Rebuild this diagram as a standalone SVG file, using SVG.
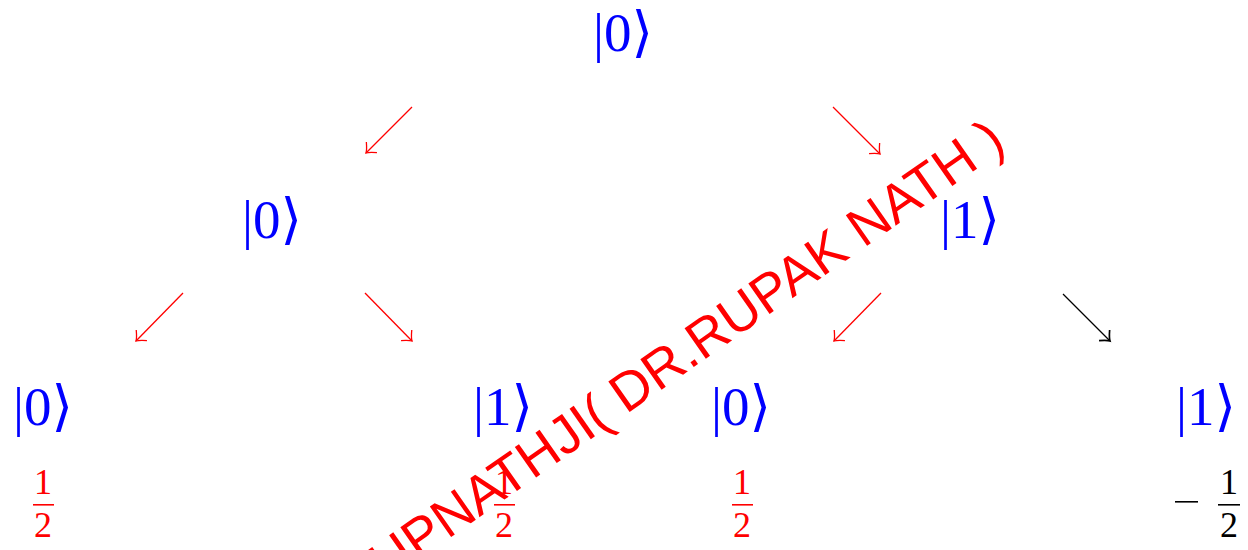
<svg xmlns="http://www.w3.org/2000/svg" width="1248" height="550" viewBox="0 0 1248 550">
<style>
.ket{font-family:"Liberation Serif","DejaVu Serif",serif;font-size:55px;fill:#0000ff;text-anchor:middle}
.frac{font-family:"Liberation Serif","DejaVu Serif",serif;font-size:36px;text-anchor:middle}
.red{fill:#ff0000}
.blk{fill:#000000}
.edge{fill:none;stroke-width:1.3}
.wm{font-family:"Liberation Sans",Arial,sans-serif;font-size:54px;fill:#ff0000}
</style>
<defs>
<marker id="ahR" markerUnits="userSpaceOnUse" markerWidth="20" markerHeight="20" refX="10" refY="10" orient="auto" viewBox="0 0 20 20">
<path d="M2,2.5 C5,6 8,9 10,10 C8,11 5,14 2,17.5" fill="none" stroke="#ff0000" stroke-width="1.3"/>
</marker>
<marker id="ahK" markerUnits="userSpaceOnUse" markerWidth="20" markerHeight="20" refX="10" refY="10" orient="auto" viewBox="0 0 20 20">
<path d="M2,2.5 C5,6 8,9 10,10 C8,11 5,14 2,17.5" fill="none" stroke="#000000" stroke-width="1.7"/>
</marker>
</defs>
<g id="connectors">
<line class="edge" stroke="#ff0000" x1="412" y1="107" x2="366" y2="153" marker-end="url(#ahR)"/>
<line class="edge" stroke="#ff0000" x1="833" y1="107" x2="880" y2="154" marker-end="url(#ahR)"/>
<line class="edge" stroke="#ff0000" x1="183" y1="293" x2="136" y2="341" marker-end="url(#ahR)"/>
<line class="edge" stroke="#ff0000" x1="365" y1="293" x2="412" y2="341" marker-end="url(#ahR)"/>
<line class="edge" stroke="#ff0000" x1="881" y1="293" x2="834" y2="341" marker-end="url(#ahR)"/>
<line class="edge" stroke="#000000" stroke-width="1.7" x1="1063" y1="294" x2="1110" y2="341" marker-end="url(#ahK)"/>
</g>
<g id="n-root"><text class="ket" x="623" y="51">|0⟩</text></g>
<g id="n-l0"><text class="ket" x="272" y="238">|0⟩</text></g>
<g id="n-l1"><text class="ket" x="970" y="238">|1⟩</text></g>
<g id="n-l00"><text class="ket" x="43" y="425">|0⟩</text>
<g class="red"><text class="frac" x="43" y="494">1</text><rect x="33" y="504" width="21" height="1.6"/><text class="frac" x="43" y="537">2</text></g></g>
<g id="n-l01"><text class="ket" x="503" y="425">|1⟩</text>
<g class="red"><text class="frac" x="504" y="494">1</text><rect x="494" y="504" width="21" height="1.6"/><text class="frac" x="504" y="537">2</text></g></g>
<g id="n-l10"><text class="ket" x="741" y="425">|0⟩</text>
<g class="red"><text class="frac" x="742" y="494">1</text><rect x="732" y="504" width="21" height="1.6"/><text class="frac" x="742" y="537">2</text></g></g>
<g id="n-l11"><text class="ket" x="1206" y="425">|1⟩</text>
<g class="blk"><rect x="1175" y="501" width="23" height="1.6"/><text class="frac" x="1229" y="494">1</text><rect x="1218" y="504" width="22" height="1.6"/><text class="frac" x="1229" y="537">2</text></g></g>
<text class="wm" transform="translate(354,605) rotate(-35)">RUPNATHJI( DR.RUPAK NATH )</text>
</svg>
